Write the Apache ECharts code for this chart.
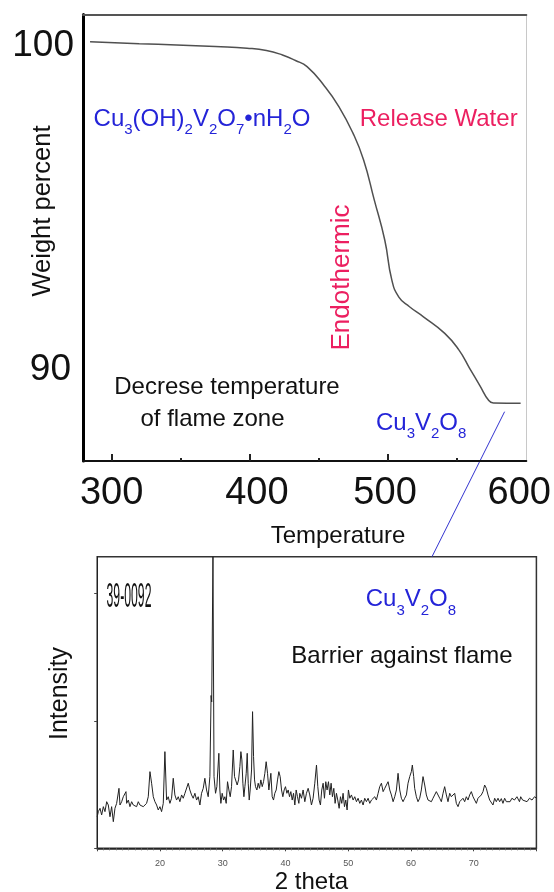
<!DOCTYPE html>
<html>
<head>
<meta charset="utf-8">
<title>TGA curve and XRD pattern</title>
<script src="https://cdn.jsdelivr.net/npm/echarts@6.0.0/dist/echarts.min.js"></script>
<style>
    html, body { margin: 0; padding: 0; background: #fff; }
    #main { width: 554px; height: 892px; }
</style>
</head>
<body>
<div id="main"></div>
<script>
//TGA 曲线: 温度 / 失重
var tgaTemp = [284.4, 320, 347.0, 375, 398.0, 412, 423.6, 433, 441.4, 454.2, 464.4, 474.6, 482.3, 490.0, 497.6,
    502.7, 507.8, 515.5, 525.6, 541.0, 551.2, 558.9, 566.5, 572.6, 576.2, 595.9];
var tgaWeight = [100.13, 100.07, 100.03, 99.98, 99.93, 99.86, 99.72, 99.55, 99.36, 98.75, 98.13, 97.31, 96.48, 95.25, 94.01,
    92.78, 92.25, 91.95, 91.64, 91.13, 90.62, 90.06, 89.51, 89.07, 88.98, 88.97];

//XRD 图谱: 2theta / 强度
var xrdAngle = [10.00, 10.18, 10.45, 10.71, 10.98, 11.24, 11.51, 11.77, 12.04, 12.30, 12.57, 12.83, 13.10, 13.47, 13.63,
    13.90, 14.16, 14.59, 14.69, 14.96, 15.22, 15.49, 15.75, 16.02, 16.28, 16.55, 16.81, 17.08, 17.34, 17.61, 17.87,
    18.14, 18.41, 18.67, 18.94, 19.20, 19.47, 19.73, 20.00, 20.26, 20.53, 20.79, 21.06, 21.32, 21.59, 21.85, 22.12,
    22.38, 22.65, 22.92, 23.18, 23.45, 23.71, 23.98, 24.24, 24.51, 24.77, 25.04, 25.30,
    25.57, 25.84, 26.10, 26.37, 26.63, 26.90, 27.16, 27.43, 27.69, 27.96, 28.15, 28.25, 28.45, 28.62, 28.86, 29.07,
    29.39, 29.55, 29.71, 29.92, 30.14, 30.35, 30.56, 30.77, 30.99, 31.20, 31.41, 31.68, 31.89, 32.10, 32.31, 32.53,
    32.74, 32.90, 33.06, 33.22, 33.38, 33.54, 33.75, 33.91, 34.07, 34.23, 34.38, 34.60, 34.76, 34.92, 35.08, 35.23,
    35.45, 35.66, 35.87, 36.08, 36.30, 36.51, 36.72, 36.93, 37.15, 37.36, 37.68, 37.89, 38.10, 38.31, 38.53, 38.74,
    38.95, 39.16, 39.38, 39.59, 39.80, 40.01, 40.23, 40.44, 40.65, 40.86, 41.08, 41.29, 41.50, 41.71, 41.92, 42.14,
    42.29, 42.56, 42.82, 43.09, 43.35, 43.62, 43.88, 44.15, 44.41, 44.68, 44.95, 45.16, 45.37, 45.58, 45.79, 46.01,
    46.22, 46.43, 46.64, 46.86, 47.07, 47.28, 47.49, 47.71, 47.92, 48.13, 48.34, 48.56, 48.77, 48.98, 49.19, 49.41,
    49.62, 49.83, 50.04, 50.26, 50.52, 50.79, 51.05, 51.32, 51.58, 51.85, 52.11, 52.38, 52.64, 52.91, 53.18, 53.44,
    53.71, 53.97, 54.24, 54.50, 54.77, 55.03, 55.30, 55.57, 55.83, 56.10, 56.36, 56.63, 56.89, 57.16, 57.42, 57.69,
    57.95, 58.22, 58.48, 58.75,
    59.01, 59.28, 59.54, 59.81, 60.07, 60.23, 60.44, 60.60, 60.87, 61.13, 61.40, 61.66, 61.93, 62.20, 62.46, 62.73,
    62.99, 63.26, 63.52, 63.79, 64.05, 64.32, 64.59, 64.85, 65.12, 65.38, 65.65, 65.91, 66.18, 66.44, 66.71, 66.98,
    67.24, 67.51, 67.77, 68.04, 68.30, 68.57, 68.83, 69.10, 69.36, 69.63, 69.90, 70.16, 70.43, 70.69, 70.96, 71.22,
    71.49, 71.75, 72.02, 72.29, 72.55, 72.82, 73.08, 73.35, 73.61, 73.88, 74.14, 74.41, 74.67, 74.94, 75.21, 75.47,
    75.8, 76.1, 76.5, 76.9, 77.3, 77.5, 77.8, 78.1, 78.5, 78.9, 79.3, 79.7, 80.0];
var xrdCounts = [248, 288, 314, 262, 327, 288, 366, 340, 248, 327, 209, 314, 353, 471, 340,
    366, 405, 445, 353, 379, 327, 366, 340, 353, 327, 366, 340, 353, 327, 340, 353,
    405, 602, 511, 405, 366, 340, 301, 327, 288, 353, 759, 379, 405, 353, 393, 550,
    419, 379, 405, 366, 419, 393, 432, 419, 511, 458, 419, 393,
    432, 379, 405, 340, 432, 471, 550, 458, 405, 563, 1200, 1150, 2290, 563, 432, 484,
    746, 458, 353, 432, 379, 405, 353, 523, 458, 405, 484, 772, 563, 576, 497, 537,
    641, 759, 694, 511, 405, 484, 589, 746, 511, 379, 458, 615, 1073, 720, 537, 484,
    458, 511, 471, 537, 484, 523, 589, 680, 589, 458, 589, 405, 379, 432, 458, 537,
    602, 563, 458, 405, 458, 484, 432, 458, 405, 445, 379, 432, 340, 458, 405, 353,
    432, 393, 458, 366, 432, 471, 419, 340, 393, 511, 654, 484, 379, 340, 458, 511,
    393, 523, 458, 523, 419, 511, 405, 471, 353, 432, 379, 314, 405, 353, 432, 327,
    379, 301, 458, 393, 419, 379, 405, 366, 393, 353, 379, 340, 393, 366, 393, 353,
    379, 366, 405, 379, 432, 484, 511, 445, 471, 458, 523, 458, 419, 366, 405, 458,
    589, 458, 393, 366,
    393, 419, 511, 563, 602, 654, 563, 471, 405, 366, 393, 458, 563, 497, 419, 379,
    393, 366, 393, 405, 445, 432, 393, 366, 432, 484, 419, 366, 432, 405, 393, 432,
    353, 327, 366, 353, 393, 366, 405, 379, 419, 445, 405, 379, 353, 393, 379, 419,
    445, 497, 471, 419, 379, 393, 340, 393, 366, 393, 366, 390, 353, 393, 366, 379,
    366, 393, 379, 405, 366, 405, 379, 393, 366, 393, 379, 405, 393];

//刻度
var tempLabels = [300, 400, 500, 600];
var tempMajorTicks = [300, 400, 500];
var tempMinorTicks = [350, 450, 550];
var weightLabels = [90, 100];
var intensityTicks = [0, 1000, 2000];

function pairs(xs, ys) {
    var out = [];
    for (var i = 0; i < xs.length; i++) {
        out.push([xs[i], ys[i]]);
    }
    return out;
}

var FONT = '"Liberation Sans", Arial, sans-serif';
var BLUE = '#2424d8';
var RED = '#ec1f60';
var T_MIN = 279.3, T_MAX = 600;
var W_MIN = 87.19, W_MAX = 100.97;

//化学式用的上下标样式
var formulaRich = {
    m: {fontSize: 24, fontFamily: FONT},
    s: {fontSize: 15, fontFamily: FONT, padding: [22, 0, 0, 0]}
};

function bigLabel(pad) {
    return {fontSize: 38, fontFamily: FONT, color: '#111', padding: pad};
}

function plainText(text, x, y, color, size, extra) {
    var el = {
        type: 'text', x: x, y: y, silent: true,
        style: {text: text, fill: color, font: size + 'px ' + FONT, align: 'center', verticalAlign: 'middle'}
    };
    for (var k in extra) {
        el[k] = extra[k];
    }
    return el;
}

var myChart = echarts.init(document.getElementById('main'), null, {renderer: 'canvas'});

var option = {
    animation: false,
    backgroundColor: '#fff',
    grid: [
        {left: 83, top: 14.5, width: 444, height: 446.5},
        {left: 97.2, top: 556.7, width: 439.2, height: 291.6, show: true, borderColor: '#333', borderWidth: 1.5}
    ],
    xAxis: [
        {
            type: 'value', gridIndex: 0, min: T_MIN, max: T_MAX,
            axisLine: {show: true, onZero: false, lineStyle: {color: '#111', width: 2}},
            axisTick: {show: true, inside: true, length: 7, customValues: tempMajorTicks, lineStyle: {color: '#222', width: 2}},
            axisLabel: {
                customValues: tempLabels, margin: 14, fontSize: 38, fontFamily: FONT, color: '#111',
                formatter: function (v) {
                    return '{t' + v + '|' + v + '}';
                },
                rich: {
                    t300: bigLabel([0, 0, 0, 0]),
                    t400: bigLabel([0, 0, 0, 14]),
                    t500: bigLabel([0, 6, 0, 0]),
                    t600: bigLabel([0, 14, 0, 0])
                }
            },
            splitLine: {show: false}
        },
        {
            //小刻度
            type: 'value', gridIndex: 0, min: T_MIN, max: T_MAX, position: 'bottom',
            axisLine: {show: false},
            axisTick: {show: true, inside: true, length: 3, customValues: tempMinorTicks, lineStyle: {color: '#222', width: 2}},
            axisLabel: {show: false},
            splitLine: {show: false}
        },
        {
            //上边框
            type: 'value', gridIndex: 0, min: T_MIN, max: T_MAX, position: 'top',
            axisLine: {show: true, onZero: false, lineStyle: {color: '#555', width: 2}},
            axisTick: {show: false},
            axisLabel: {show: false},
            splitLine: {show: false}
        },
        {
            type: 'value', gridIndex: 1, min: 10, max: 80, interval: 10,
            axisLine: {show: true, onZero: false, lineStyle: {color: '#222', width: 1.5}},
            axisTick: {show: true, length: 3, lineStyle: {color: '#444'}},
            minorTick: {show: true, splitNumber: 10, length: 2, lineStyle: {color: '#666'}},
            axisLabel: {
                showMinLabel: false, showMaxLabel: false, margin: 11,
                fontSize: 9, fontFamily: '"Liberation Sans Narrow", "Liberation Sans", sans-serif', color: '#555'
            },
            splitLine: {show: false}
        }
    ],
    yAxis: [
        {
            type: 'value', gridIndex: 0, min: W_MIN, max: W_MAX,
            axisLine: {show: true, onZero: false, lineStyle: {color: '#000', width: 3}},
            axisTick: {show: false},
            axisLabel: {
                customValues: weightLabels, margin: 9, fontSize: 37, fontFamily: FONT, color: '#111',
                formatter: function (v) {
                    return v === 90 ? '{n|90}' : '{w|' + v + '}';
                },
                rich: {
                    w: {fontSize: 37, fontFamily: FONT, color: '#111'},
                    n: {fontSize: 37, fontFamily: FONT, color: '#111', padding: [0, 3, 0, 0]}
                }
            },
            splitLine: {show: false}
        },
        {
            //右边框
            type: 'value', gridIndex: 0, min: W_MIN, max: W_MAX, position: 'right',
            axisLine: {show: true, onZero: false, lineStyle: {color: '#c8c8c8', width: 1}},
            axisTick: {show: false},
            axisLabel: {show: false},
            splitLine: {show: false}
        },
        {
            type: 'value', gridIndex: 1, min: 0, max: 2290,
            axisLine: {show: true, onZero: false, lineStyle: {color: '#222', width: 1}},
            axisTick: {show: true, length: 3, customValues: intensityTicks, lineStyle: {color: '#444'}},
            axisLabel: {show: false},
            splitLine: {show: false}
        }
    ],
    series: [
        {
            name: 'Weight percent',
            type: 'line',
            xAxisIndex: 0,
            yAxisIndex: 0,
            data: pairs(tgaTemp, tgaWeight),
            smooth: 0.5,
            showSymbol: false,
            silent: true,
            lineStyle: {color: '#505050', width: 1.5}
        },
        {
            name: 'Intensity',
            type: 'line',
            xAxisIndex: 3,
            yAxisIndex: 2,
            data: pairs(xrdAngle, xrdCounts),
            showSymbol: false,
            silent: true,
            lineStyle: {color: '#222', width: 1}
        }
    ],
    graphic: [
        {
            type: 'text', x: 93.6, y: 119, silent: true,
            style: {
                text: '{m|Cu}{s|3}{m|(OH)}{s|2}{m|V}{s|2}{m|O}{s|7}{m|•nH}{s|2}{m|O}',
                rich: formulaRich, fill: BLUE, align: 'left', verticalAlign: 'middle'
            }
        },
        plainText('Release Water', 438.7, 119, RED, 24),
        plainText('Endothermic', 342, 277.5, RED, 26, {rotation: Math.PI / 2}),
        plainText('Weight percent', 43, 211, '#111', 25.5, {rotation: Math.PI / 2}),
        plainText('Decrese temperature', 227, 387, '#111', 24),
        plainText('of flame zone', 212.5, 419.5, '#111', 24),
        {
            type: 'text', x: 376, y: 423, silent: true,
            style: {
                text: '{m|Cu}{s|3}{m|V}{s|2}{m|O}{s|8}',
                rich: formulaRich, fill: BLUE, align: 'left', verticalAlign: 'middle'
            }
        },
        plainText('Temperature', 338, 536, '#111', 24),
        {
            type: 'line', silent: true,
            shape: {x1: 504.6, y1: 411.7, x2: 432, y2: 556.7},
            style: {stroke: '#3434d0', lineWidth: 1}
        },
        plainText('39-0092', 129, 597.5, '#111', 35, {scaleX: 0.35}),
        {
            type: 'text', x: 365.7, y: 599.5, silent: true,
            style: {
                text: '{m|Cu}{s|3}{m|V}{s|2}{m|O}{s|8}',
                rich: formulaRich, fill: BLUE, align: 'left', verticalAlign: 'middle'
            }
        },
        plainText('Barrier against flame', 402, 656, '#111', 24),
        plainText('Intensity', 60, 693.5, '#111', 25, {rotation: Math.PI / 2}),
        plainText('2 theta', 311.5, 882, '#111', 24)
    ]
};

myChart.setOption(option);
</script>
</body>
</html>
